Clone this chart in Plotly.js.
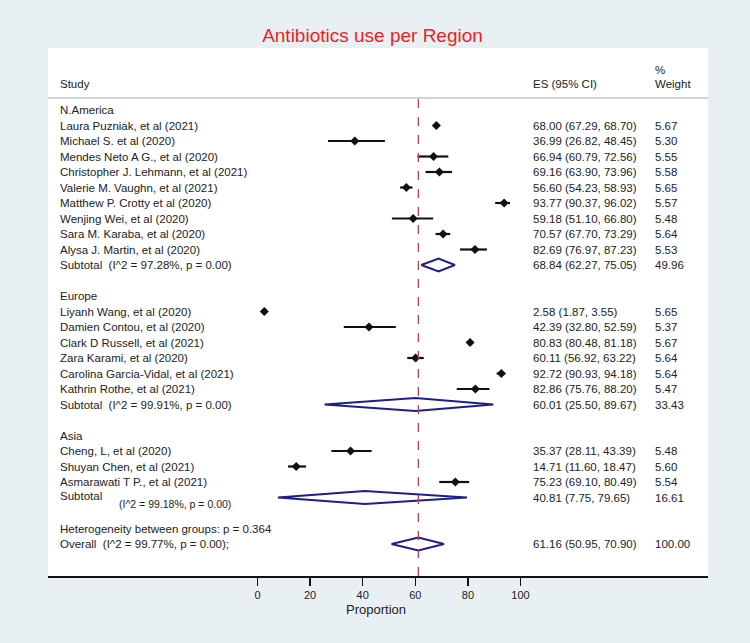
<!DOCTYPE html>
<html>
<head>
<meta charset="utf-8">
<script src="https://cdn.plot.ly/plotly-3.0.1.min.js"></script>
<style>html,body{margin:0;padding:0;background:#e8f0f3;}#chart{width:750px;height:643px;}</style>
</head>
<body>
<div id="chart"></div>
<script>
// ---------------- DATA ----------------
const regions = ["N.America", "Europe", "Asia"];

const studyNames = [
  "Laura Puzniak, et al (2021)", "Michael S. et al (2020)", "Mendes Neto A G., et al (2020)",
  "Christopher J. Lehmann, et al (2021)", "Valerie M. Vaughn, et al (2021)", "Matthew P. Crotty et al (2020)",
  "Wenjing Wei, et al (2020)", "Sara M. Karaba, et al (2020)", "Alysa J. Martin, et al (2020)",
  "Liyanh Wang, et al (2020)", "Damien Contou, et al (2020)", "Clark D Russell, et al (2021)",
  "Zara Karami, et al (2020)", "Carolina Garcia-Vidal, et al (2021)", "Kathrin Rothe, et al (2021)",
  "Cheng, L, et al (2020)", "Shuyan Chen, et al (2021)", "Asmarawati T P., et al (2021)"
];
const studyRegion = [0,0,0,0,0,0,0,0,0, 1,1,1,1,1,1, 2,2,2];
const studyES = [68.00, 36.99, 66.94, 69.16, 56.60, 93.77, 59.18, 70.57, 82.69,
                 2.58, 42.39, 80.83, 60.11, 92.72, 82.86,
                 35.37, 14.71, 75.23];
const studyLo = [67.29, 26.82, 60.79, 63.90, 54.23, 90.37, 51.10, 67.70, 76.97,
                 1.87, 32.80, 80.48, 56.92, 90.93, 75.76,
                 28.11, 11.60, 69.10];
const studyHi = [68.70, 48.45, 72.56, 73.96, 58.93, 96.02, 66.80, 73.29, 87.23,
                 3.55, 52.59, 81.18, 63.22, 94.18, 88.20,
                 43.39, 18.47, 80.49];
const studyWeight = [5.67, 5.30, 5.55, 5.58, 5.65, 5.57, 5.48, 5.64, 5.53,
                     5.65, 5.37, 5.67, 5.64, 5.64, 5.47,
                     5.48, 5.60, 5.54];

const subES = [68.84, 60.01, 40.81];
const subLo = [62.27, 25.50, 7.75];
const subHi = [75.05, 89.67, 79.65];
const subWeight = [49.96, 33.43, 16.61];
const subI2 = ["97.28", "99.91", "99.18"];
const subP = ["0.00", "0.00", "0.00"];

const overallES = 61.16, overallLo = 50.95, overallHi = 70.90, overallWeight = 100.00;
const overallI2 = "99.77", overallP = "0.00";
const heterogeneityP = "0.364";

const xTicks = [0, 20, 40, 60, 80, 100];
const xTitle = "Proportion";
const chartTitle = "Antibiotics use per Region";

// ---------------- LAYOUT HELPERS ----------------
const PL = 48, PR = 708, PT = 48, PB = 576;
const fx = px => (px - PL) / (PR - PL);
const fy = py => 1 - (py - PT) / (PB - PT);
const FONT = "Liberation Sans, Arial, Helvetica, sans-serif";
const TXT = "#222";
const NAVY = "#1e1e8c";
const fmt = v => v.toFixed(2);
const ci = (e, l, h) => `${fmt(e)} (${fmt(l)}, ${fmt(h)})`;
const NB = "\u00a0";

const annotations = [];
const traces = [];
function txt(x, y, text, opts) {
  annotations.push(Object.assign({
    xref: "paper", yref: "y", x: x, y: y, text: text, showarrow: false,
    xanchor: "left", yanchor: "middle",
    font: {family: FONT, size: 11.5, color: TXT}
  }, opts || {}));
}

const X_LABEL = fx(58), X_ES = fx(531), X_W = fx(653);

// rows
let row = 0;
const ptX = [], ptY = [], ptErrP = [], ptErrM = [];
regions.forEach((reg, r) => {
  txt(X_LABEL, row, reg);
  row++;
  studyNames.forEach((name, i) => {
    if (studyRegion[i] !== r) return;
    txt(X_LABEL, row, name);
    txt(X_ES, row, ci(studyES[i], studyLo[i], studyHi[i]));
    txt(X_W, row, fmt(studyWeight[i]));
    ptX.push(studyES[i]); ptY.push(row);
    ptErrP.push(studyHi[i] - studyES[i]); ptErrM.push(studyES[i] - studyLo[i]);
    row++;
  });
  // subtotal
  if (r === 2) {
    txt(X_LABEL, row - 0.08, "Subtotal");
    txt(fx(117), row + 0.45, `(I^2 = ${subI2[r]}%, p = ${subP[r]})`, {font: {family: FONT, size: 10.5, color: TXT}});
  } else {
    txt(X_LABEL, row, `Subtotal${NB}${NB}(I^2 = ${subI2[r]}%, p = ${subP[r]})`);
  }
  txt(X_ES, row, ci(subES[r], subLo[r], subHi[r]));
  txt(X_W, row, fmt(subWeight[r]));
  const h = 0.42;
  traces.push({
    type: "scatter", mode: "lines", hoverinfo: "skip",
    x: [subLo[r], subES[r], subHi[r], subES[r], subLo[r]],
    y: [row, row - h, row, row + h, row],
    fill: "toself", fillcolor: "white",
    line: {color: NAVY, width: 2}
  });
  row += 2;
});
// heterogeneity and overall
txt(X_LABEL, row, `Heterogeneity between groups: p = ${heterogeneityP}`);
row++;
txt(X_LABEL, row, `Overall${NB}${NB}(I^2 = ${overallI2}%, p = ${overallP});`);
txt(X_ES, row, ci(overallES, overallLo, overallHi));
txt(X_W, row, fmt(overallWeight));
traces.push({
  type: "scatter", mode: "lines", hoverinfo: "skip",
  x: [overallLo, overallES, overallHi, overallES, overallLo],
  y: [row, row - 0.42, row, row + 0.42, row],
  fill: "toself", fillcolor: "white",
  line: {color: NAVY, width: 2}
});

traces.push({
  type: "scatter", mode: "markers", hoverinfo: "skip",
  x: ptX, y: ptY,
  marker: {symbol: "diamond", size: 7, color: "#111"},
  error_x: {type: "data", symmetric: false, array: ptErrP, arrayminus: ptErrM,
            color: "#111", thickness: 2.2, width: 0}
});

// headers (paper y)
const hdr = (x, py, text) => annotations.push({
  xref: "paper", yref: "paper", x: x, y: fy(py), text: text, showarrow: false,
  xanchor: "left", yanchor: "middle", font: {family: FONT, size: 11.5, color: TXT}
});
hdr(X_LABEL, 84, "Study");
hdr(X_ES, 84, "ES (95% CI)");
hdr(X_W, 70, "%");
hdr(X_W, 84, "Weight");

annotations.push({
  xref: "paper", yref: "paper", x: fx(376), y: fy(609), text: xTitle, showarrow: false,
  xanchor: "center", yanchor: "middle", font: {family: FONT, size: 13, color: TXT}
});

// y range: row i at py = 110 + 15.5*i
const s = 15.5, y0px = 110;
const yTop = (PT - y0px) / s, yBot = (PB - y0px) / s;

const pxPerUnit = 2.63, zeroPx = 257.5;
const xMin = (PL - zeroPx) / pxPerUnit, xMax = (PR - zeroPx) / pxPerUnit;

const layout = {
  width: 750, height: 643,
  margin: {l: PL, r: 750 - PR, t: PT, b: 643 - PB, pad: 0},
  paper_bgcolor: "#e8f0f3",
  plot_bgcolor: "#ffffff",
  showlegend: false,
  title: {text: chartTitle, x: 372.5 / 750, xanchor: "center", y: 1 - 35 / 643, yanchor: "middle",
          font: {family: FONT, size: 19, color: "#f01e1e"}},
  xaxis: {
    range: [xMin, xMax], tickvals: xTicks, ticktext: xTicks.map(String),
    showgrid: false, zeroline: false, showline: true, linecolor: "#111", linewidth: 1.5,
    ticks: "outside", ticklen: 8, tickwidth: 1.5, tickcolor: "#111",
    tickfont: {family: FONT, size: 11, color: TXT}, fixedrange: true
  },
  yaxis: {
    range: [yBot, yTop], showgrid: false, zeroline: false, showline: false,
    showticklabels: false, ticks: "", fixedrange: true
  },
  shapes: [
    {type: "line", xref: "paper", yref: "paper", x0: 0, x1: 1, y0: fy(98), y1: fy(98),
     line: {color: "#d4d4d4", width: 2}},
    {type: "line", xref: "x", yref: "paper", x0: overallES, x1: overallES, y0: 0, y1: fy(99),
     line: {color: "#b8474f", width: 1.3, dash: "dash"}}
  ],
  annotations: annotations
};

Plotly.newPlot("chart", traces, layout, {displayModeBar: false, staticPlot: true});
</script>
</body>
</html>
